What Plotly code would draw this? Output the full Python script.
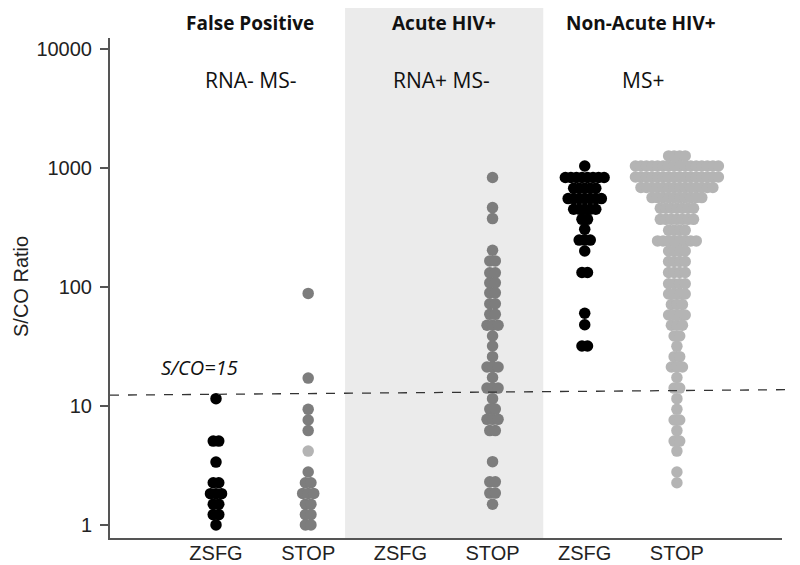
import plotly.graph_objects as go

# ---------------- data ----------------
categories = ["ZSFG", "STOP", "ZSFG", "STOP", "ZSFG", "STOP"]
group_labels = ["False Positive", "Acute HIV+", "Non-Acute HIV+"]
group_sublabels = ["RNA- MS-", "RNA+ MS-", "MS+"]
y_tick_vals = [1, 10, 100, 1000, 10000]
y_tick_text = ["1", "10", "100", "1000", "10000"]
threshold_label = "S/CO=15"
threshold_line = [12.3, 13.7]  # drawn line (left end, right end)

# S/CO value of each dot row and number of specimens in the row
fp_zsfg_vals = [11.5, 5.06, 3.37, 2.26, 1.83, 1.49, 1.22, 1.0]
fp_zsfg_counts = [1, 2, 1, 2, 3, 2, 2, 1]

fp_stop_vals = [88, 17.1, 9.35, 7.6, 6.2, 2.78, 2.26, 1.84, 1.49, 1.22, 1.0]
fp_stop_counts = [1, 1, 1, 1, 1, 1, 2, 3, 2, 2, 2]
fp_stop_light_vals = [4.17]
fp_stop_light_counts = [1]

acute_stop_vals = [828, 463, 374, 203, 165, 131, 108, 89, 72, 58.7, 47.5, 38.6,
                   31.8, 25.9, 21.2, 17.3, 14.1, 11.5, 9.4, 7.7, 6.2, 3.4, 2.3,
                   1.85, 1.49]
acute_stop_counts = [1, 1, 1, 1, 2, 2, 2, 2, 2, 2, 3, 1,
                     1, 1, 3, 1, 3, 1, 2, 3, 2, 1, 2,
                     2, 1]

nonacute_zsfg_vals = [1035, 828, 673, 551, 448, 369, 304, 247, 200, 132, 60, 48, 31.8]
nonacute_zsfg_counts = [1, 8, 5, 7, 5, 2, 1, 3, 1, 2, 1, 1, 2]

nonacute_stop_vals = [1257, 1035, 837, 682, 562, 457, 369, 298, 243, 200, 163, 132,
                      106, 87, 71, 58, 47.5, 38.6, 31.6, 25.9, 21.2, 17.3, 14.1,
                      11.5, 9.35, 7.6, 6.2, 5.06, 4.17, 2.78, 2.26]
nonacute_stop_counts = [4, 16, 16, 14, 10, 7, 7, 4, 8, 4, 4, 4,
                        4, 4, 3, 4, 3, 2, 1, 2, 3, 1, 2,
                        1, 1, 2, 1, 2, 1, 1, 1]

# ---------------- style ----------------
BLACK = "#000000"
MID = "#7d7d7d"
LIGHT = "#b4b4b4"
DOT = 11.5
STEP = 0.060  # horizontal spacing between dots of a row (x units)


def swarm(center, vals, counts):
    xs, ys = [], []
    for v, n in zip(vals, counts):
        for i in range(n):
            xs.append(center + (i - (n - 1) / 2) * STEP)
            ys.append(v)
    return xs, ys


groups = [
    (0, fp_zsfg_vals, fp_zsfg_counts, BLACK),
    (1, fp_stop_vals, fp_stop_counts, MID),
    (1, fp_stop_light_vals, fp_stop_light_counts, LIGHT),
    (3, acute_stop_vals, acute_stop_counts, MID),
    (4, nonacute_zsfg_vals, nonacute_zsfg_counts, BLACK),
    (5, nonacute_stop_vals, nonacute_stop_counts, LIGHT),
]

fig = go.Figure()
for c, vals, counts, col in groups:
    xs, ys = swarm(c, vals, counts)
    fig.add_trace(go.Scatter(x=xs, y=ys, mode="markers",
                             marker=dict(size=DOT, color=col, line=dict(width=0)),
                             showlegend=False, hoverinfo="y"))

X0, X1 = -1.15, 6.14
Y0, Y1 = -0.11, 4.09
W, H = 800, 565
OFF = 8  # page offset of the figure in the window
# plot area in window pixels: x 110..782, y 38..538
L, R, T, B = 110 - OFF, W - (782 - OFF), 38 - OFF, H - (538 - OFF)
PW, PH = W - L - R, H - T - B


def px_x(px):
    return (px - OFF - L) / PW


def px_y(py):
    return (H - B - (py - OFF)) / PH


shapes = [
    dict(type="rect", xref="x", yref="paper", x0=1.40, x1=3.55, y0=0, y1=px_y(5),
         fillcolor="#ebebeb", line=dict(width=0), layer="below"),
    dict(type="line", xref="paper", yref="y", x0=0, x1=px_x(800),
         y0=threshold_line[0], y1=threshold_line[1],
         line=dict(color="#333333", width=1.3, dash="dash"), layer="above"),
]

font_txt = "Open Sans, Liberation Sans, Arial, sans-serif"
annotations = []
head_x = [250, 444, 641]
sub_x = [250, 441, 643]
for lab, sub, hx, sx in zip(group_labels, group_sublabels, head_x, sub_x):
    annotations.append(dict(text="<b>%s</b>" % lab, xref="paper", yref="paper",
                            x=px_x(hx), y=px_y(23), showarrow=False,
                            xanchor="center", yanchor="middle",
                            font=dict(family=font_txt, size=19, color="#111111")))
    annotations.append(dict(text=sub, xref="paper", yref="paper",
                            x=px_x(sx), y=px_y(80), showarrow=False,
                            xanchor="center", yanchor="middle",
                            font=dict(family=font_txt, size=21, color="#111111")))
annotations.append(dict(text="<i>%s</i>" % threshold_label, xref="paper", yref="paper",
                        x=px_x(199), y=px_y(368), showarrow=False,
                        xanchor="center", yanchor="middle",
                        font=dict(family=font_txt, size=20, color="#111111")))
annotations.append(dict(text="S/CO Ratio", xref="paper", yref="paper",
                        x=px_x(21), y=px_y(287), showarrow=False,
                        textangle=-90, xanchor="center", yanchor="middle",
                        font=dict(family="Liberation Sans, Arial, sans-serif", size=20,
                                  color="#222222")))

fig.update_layout(
    width=W, height=H,
    margin=dict(l=L, r=R, t=T, b=B),
    paper_bgcolor="white", plot_bgcolor="rgba(0,0,0,0)",
    shapes=shapes, annotations=annotations,
    xaxis=dict(range=[X0, X1], tickvals=list(range(len(categories))), ticktext=categories,
               showgrid=False, zeroline=False, showline=True, linecolor="#555555",
               linewidth=2, ticks="", automargin=False, ticklabelstandoff=-4,
               tickfont=dict(family="Liberation Sans, Arial, sans-serif", size=20,
                             color="#222222")),
    yaxis=dict(type="log", range=[Y0, Y1], tickvals=y_tick_vals, ticktext=y_tick_text,
               showgrid=False, zeroline=False, showline=True, linecolor="#555555",
               linewidth=2, ticks="outside", ticklen=8, tickwidth=1.5, tickcolor="#555555",
               automargin=False, ticklabelstandoff=4,
               tickfont=dict(family="Liberation Sans, Arial, sans-serif", size=20,
                             color="#222222")),
)

fig.write_html("out.html")
